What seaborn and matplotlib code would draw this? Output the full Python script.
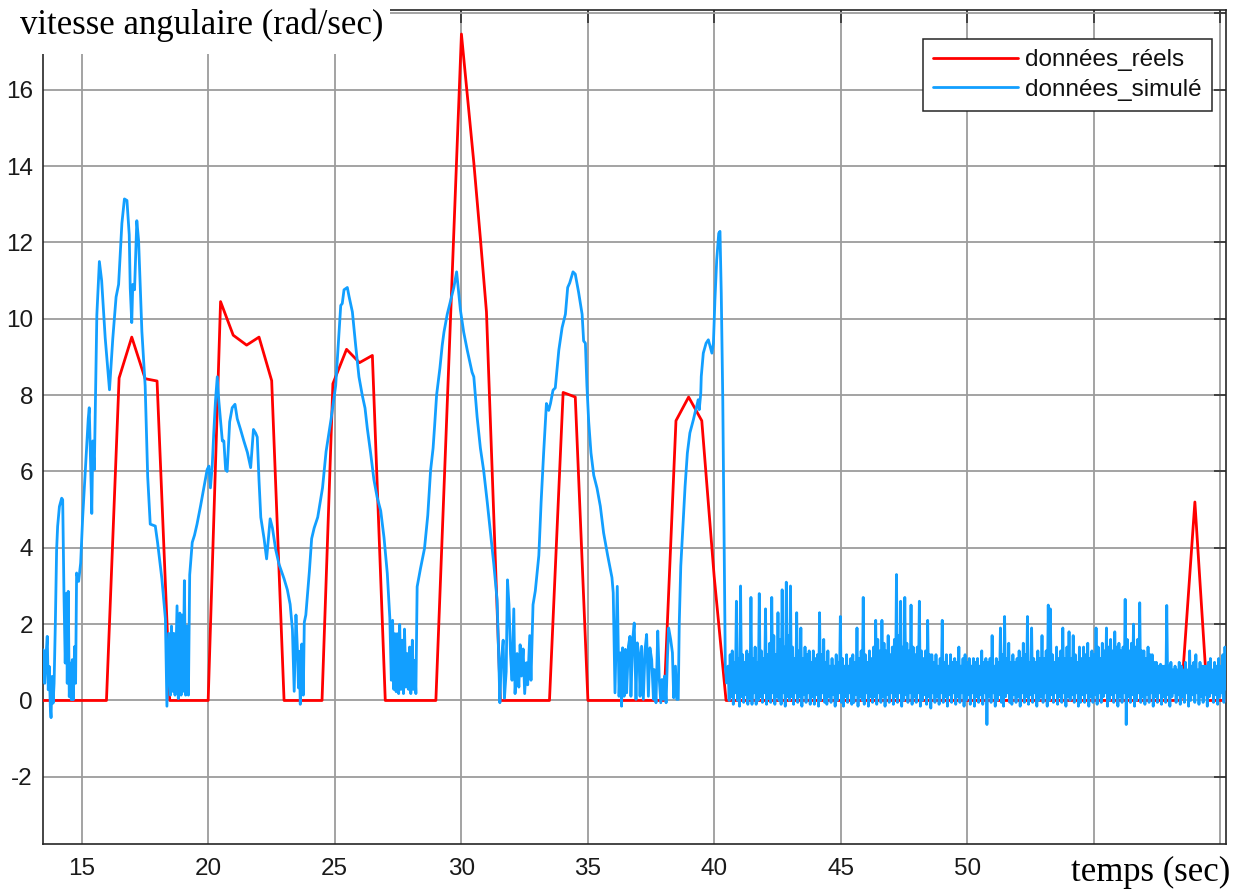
import numpy as np
import matplotlib
matplotlib.use("Agg")
import matplotlib.pyplot as plt
import seaborn as sns
from matplotlib.patches import Rectangle

# ---------------- data ----------------
reel_t = [13.46, 15.98, 16.48, 16.98, 17.51, 17.98, 18.41, 18.48, 20.0, 20.49, 20.99, 21.52,
          22.01, 22.51, 23.0, 24.50, 24.93, 25.47, 25.98, 26.49, 27.0, 29.0, 30.01, 30.5,
          30.76, 31.0, 31.55, 33.49, 34.03, 34.51, 35.01, 38.02, 38.49, 38.99, 39.51, 40.0,
          40.47, 58.45, 59.0, 59.5, 60.23]
reel_v = [0, 0, 8.45, 9.52, 8.43, 8.37, 1.43, 0, 0, 10.45, 9.57, 9.31,
          9.52, 8.38, 0, 0, 8.3, 9.2, 8.85, 9.04, 0, 0, 17.46, 14.09,
          12.1, 10.18, 0, 0, 8.07, 7.95, 0, 0, 7.33, 7.95, 7.33, 3.25,
          0, 0, 5.2, 0, 0]

sim_t = [13.46, 13.48, 13.54, 13.59, 13.64, 13.68, 13.72, 13.76, 13.79, 13.83, 13.87, 13.91,
         13.96, 14.01, 14.05, 14.12, 14.21, 14.25, 14.30, 14.35, 14.40, 14.43, 14.47, 14.51,
         14.55, 14.59, 14.63, 14.67, 14.72, 14.76, 14.80, 14.88, 14.96, 15.04, 15.13, 15.26,
         15.30, 15.36, 15.40, 15.44, 15.50, 15.60, 15.70, 15.79, 15.93, 16.10, 16.23, 16.36,
         16.46, 16.59, 16.69, 16.79, 16.88, 16.92, 16.98, 17.02, 17.09, 17.18, 17.25, 17.38,
         17.51, 17.61, 17.71, 17.91, 18.00, 18.17, 18.31, 18.37, 18.44, 18.51, 18.55, 18.60,
         18.64, 18.69, 18.77, 18.82, 18.88, 18.93, 18.97, 19.01, 19.06, 19.11, 19.17, 19.22,
         19.27, 19.37, 19.46, 19.56, 19.70, 19.83, 19.96, 20.03, 20.09, 20.16, 20.22, 20.29,
         20.36, 20.42, 20.56, 20.62, 20.69, 20.75, 20.85, 20.95, 21.06, 21.15, 21.28, 21.41,
         21.55, 21.68, 21.79, 21.88, 21.94, 22.01, 22.08, 22.21, 22.31, 22.45, 22.54, 22.67,
         22.80, 23.00, 23.13, 23.24, 23.33, 23.40, 23.47, 23.53, 23.57, 23.60, 23.64, 23.68,
         23.70, 23.76, 23.80, 23.86, 24.00, 24.09, 24.19, 24.33, 24.52, 24.66, 24.86, 25.04,
         25.24, 25.30, 25.37, 25.50, 25.57, 25.70, 25.83, 25.96, 26.09, 26.20, 26.29, 26.42,
         26.55, 26.68, 26.82, 26.95, 27.08, 27.18, 27.24, 27.29, 27.34, 27.38, 27.43, 27.47,
         27.53, 27.57, 27.62, 27.67, 27.72, 27.76, 27.82, 27.87, 27.92, 27.96, 28.01, 28.07,
         28.11, 28.16, 28.21, 28.26, 28.39, 28.55, 28.68, 28.79, 28.89, 28.95, 29.03, 29.16,
         29.25, 29.32, 29.45, 29.58, 29.71, 29.82, 29.88, 29.97, 30.10, 30.24, 30.43, 30.50,
         30.63, 30.76, 30.89, 31.03, 31.16, 31.29, 31.42, 31.49, 31.53, 31.58, 31.66, 31.71,
         31.78, 31.83, 31.89, 31.95, 32.01, 32.08, 32.13, 32.21, 32.28, 32.33, 32.38, 32.45,
         32.51, 32.58, 32.63, 32.71, 32.76, 32.84, 32.93, 33.07, 33.16, 33.26, 33.37, 33.46,
         33.53, 33.63, 33.72, 33.86, 33.99, 34.12, 34.21, 34.29, 34.42, 34.51, 34.64, 34.78,
         34.84, 34.91, 34.97, 35.04, 35.13, 35.24, 35.37, 35.50, 35.63, 35.79, 35.96, 36.01,
         36.08, 36.17, 36.24, 36.30, 36.34, 36.38, 36.44, 36.49, 36.54, 36.61, 36.67, 36.71,
         36.78, 36.84, 36.91, 36.96, 37.03, 37.07, 37.13, 37.20, 37.27, 37.33, 37.40, 37.46,
         37.53, 37.60, 37.63, 37.70, 37.77, 37.83, 37.89, 37.94, 37.99, 38.04, 38.10, 38.15,
         38.20, 38.28, 38.35, 38.40, 38.47, 38.52, 38.58, 38.62, 38.68, 38.75, 38.85, 38.94,
         39.04, 39.11, 39.18, 39.24, 39.31, 39.37, 39.41, 39.47, 39.49, 39.57, 39.68, 39.77,
         39.84, 39.91, 39.97, 40.03, 40.10, 40.18, 40.23, 40.28, 40.34, 40.39, 40.44, 40.49]
sim_v = [1.0, 1.33, 0.45, 1.15, 1.68, 0.28, 0.89, -0.16, -0.45, 0.63, -0.07, 0.45,
         2.03, 3.95, 4.56, 5.08, 5.3, 5.26, 2.81, 0.98, 2.81, 0.45, 2.86, 0.1,
         0.98, 0.02, 1.07, 0.02, 1.41, 0.45, 3.34, 3.12, 3.6, 4.8, 5.86, 7.38,
         7.67, 5.95, 4.9, 6.8, 6.05, 10.1, 11.5, 11.0, 9.5, 8.14, 9.48, 10.57,
         10.9, 12.5, 13.14, 13.1, 12.2, 10.8, 9.9, 10.9, 10.76, 12.57, 12.05, 9.67,
         8.24, 5.86, 4.62, 4.57, 4.14, 3.19, 2.14, -0.15, 1.76, 0.14, 1.95, 0.24,
         1.76, 0.14, 2.48, 0.05, 2.29, 0.14, 2.24, 0.24, 3.14, 0.14, 1.95, 0.14,
         3.29, 4.14, 4.33, 4.62, 5.1, 5.57, 6.05, 6.14, 5.57, 6.14, 7.0, 7.86,
         8.48, 7.86, 6.8, 6.8, 6.05, 6.0, 7.3, 7.67, 7.76, 7.38, 7.1, 6.8,
         6.5, 6.1, 7.1, 7.0, 6.9, 5.76, 4.8, 4.24, 3.71, 4.76, 4.52, 3.95,
         3.57, 3.19, 2.9, 2.52, 1.86, 0.24, 2.24, 1.29, 0.33, 1.29, -0.1, 0.71,
         1.48, 0.14, 2.05, 2.24, 3.38, 4.24, 4.52, 4.8, 5.57, 6.52, 7.38, 8.25,
         10.35, 10.4, 10.76, 10.82, 10.58, 10.18, 9.3, 8.48, 8.0, 7.66, 7.13, 6.49,
         5.79, 5.32, 4.97, 4.27, 3.33, 2.16, 0.53, 2.1, 0.29, 1.75, 0.23, 1.75,
         0.18, 1.99, 0.29, 1.58, 0.18, 1.87, 0.35, 1.23, 0.29, 1.4, 0.18, 1.58,
         0.29, 1.05, 0.18, 2.98, 3.45, 3.98, 4.85, 6.02, 6.61, 7.19, 8.01, 8.71,
         9.3, 9.65, 10.12, 10.47, 10.82, 11.23, 10.82, 10.23, 9.65, 9.18, 8.6, 8.48,
         7.43, 6.61, 6.02, 5.2, 4.39, 3.57, 2.63, 0.99, -0.06, 0.99, 1.58, 0.06,
         0.76, 3.16, 2.51, 1.23, 0.53, 2.4, 0.18, 1.23, 0.35, 1.46, 0.64, 1.35,
         0.18, 0.99, 0.41, 1.7, 0.53, 2.51, 2.87, 3.8, 5.2, 6.49, 7.78, 7.6,
         7.78, 8.13, 8.19, 9.18, 9.77, 10.12, 10.82, 10.94, 11.23, 11.17, 10.7, 10.12,
         9.42, 9.36, 8.25, 7.31, 6.49, 5.9, 5.56, 5.09, 4.39, 3.8, 3.22, 2.82,
         0.2, 2.99, 0.11, 1.25, -0.15, 1.38, 0.11, 1.34, 0.2, 1.42, 1.68, 0.11,
         1.6, 2.03, 0.03, 1.51, 1.16, 0.11, 1.42, 0.03, 1.34, 1.73, 0.11, 1.38,
         1.07, 0.03, 0.81, -0.06, 1.82, 0.55, -0.06, 0.55, 0.03, 0.64, -0.06, 1.07,
         1.9, 1.6, 1.25, 0.07, 0.9, 0.03, 0.03, 2.03, 3.52, 4.39, 5.61, 6.48,
         7.01, 7.18, 7.36, 7.53, 7.71, 7.88, 7.62, 8.05, 8.49, 9.1, 9.36, 9.45,
         9.28, 9.1, 9.36, 10.5, 11.54, 12.24, 12.29, 10.67, 7.88, 4.39, 0.9, 0.46]

# noise part of the simulated signal (evenly sampled from 40.55 s to 60.23 s)
bruit_debut, bruit_fin = 40.55, 60.23
bruit_v = [
    0.9, 0.0, 1.2, 0.1, 1.3, -0.1, 1.0, 0.2, 2.6, 0.0, 1.1, -0.15, 3.0, 0.1, 1.2, -0.05, 1.0, 0.15, 1.3, -0.1,
    1.2, 0.05, 2.7, -0.1, 1.1, 0.2, 1.4, -0.1, 1.0, 0.0, 2.8, 0.1, 1.3, -0.05, 1.1, 0.2, 2.4, -0.1, 1.2, 0.05,
    1.5, -0.05, 2.7, 0.2, 1.7, -0.1, 1.2, 0.1, 2.3, 0.0, 1.6, -0.1, 2.9, 0.2, 1.4, -0.15, 3.1, 0.1, 1.7, 0.0,
    3.0, 0.1, 1.4, -0.1, 1.1, 0.2, 2.3, -0.05, 1.3, 0.1, 1.9, -0.15, 1.1, 0.15, 1.4, -0.05, 1.2, 0.2, 1.3, -0.1,
    1.0, 0.1, 1.3, -0.1, 1.1, 0.15, 1.2, -0.15, 2.3, 0.0, 1.2, 0.2, 1.6, -0.05, 1.0, -0.1, 1.3, 0.1, 0.9, -0.05,
    1.1, 0.15, 0.9, -0.15, 1.2, 0.0, 1.0, 0.2, 2.2, -0.05, 1.1, -0.15, 0.9, 0.1, 1.2, -0.05, 0.9, 0.2, 1.1, -0.1,
    1.2, -0.05, 1.0, 0.15, 1.9, -0.15, 1.1, 0.1, 1.3, 0.0, 2.7, -0.1, 1.2, 0.2, 1.0, -0.15, 1.3, 0.1, 1.1, -0.05,
    1.4, 0.1, 2.1, -0.1, 1.6, 0.2, 1.3, -0.05, 2.1, 0.1, 1.5, -0.15, 1.3, 0.15, 1.7, -0.05, 1.2, 0.2, 1.4, -0.1,
    1.6, 0.1, 3.3, -0.05, 1.7, 0.2, 2.6, -0.15, 1.4, 0.0, 2.7, 0.15, 1.5, -0.05, 1.3, 0.2, 2.5, -0.1, 1.4, 0.1,
    1.2, -0.05, 1.4, 0.2, 2.6, -0.15, 1.3, 0.0, 1.1, 0.15, 1.3, -0.1, 2.1, 0.1, 1.2, -0.2, 1.2, 0.2, 1.0, -0.05,
    1.2, 0.1, 0.9, -0.1, 1.1, 0.2, 2.1, -0.05, 1.0, 0.1, 1.2, -0.15, 0.9, 0.15, 1.2, -0.05, 1.0, 0.2, 1.1, -0.1,
    1.0, 0.1, 1.4, -0.05, 0.9, 0.2, 1.1, -0.15, 1.2, 0.0, 1.0, 0.15, 1.1, -0.1, 0.9, 0.2, 1.1, -0.15, 1.0, 0.1,
    1.1, -0.05, 0.9, 0.15, 1.3, -0.1, 1.0, 0.2, 1.1, -0.63, 1.0, 0.1, 1.1, -0.05, 1.7, 0.2, 0.9, -0.15, 1.1, 0.0,
    1.0, 0.15, 1.9, -0.05, 1.2, -0.15, 2.2, 0.1, 1.1, 0.2, 1.5, -0.05, 1.0, -0.1, 1.2, 0.15, 1.0, -0.05, 1.1, 0.1,
    1.3, -0.15, 1.1, 0.2, 1.5, -0.05, 1.2, 0.1, 2.2, -0.1, 1.0, 0.15, 1.9, -0.05, 1.1, 0.2, 1.0, -0.15, 1.3, 0.0,
    1.1, 0.1, 1.7, -0.05, 1.1, 0.2, 1.3, -0.15, 2.5, 0.0, 2.4, 0.15, 1.2, -0.05, 1.0, 0.2, 1.4, -0.1, 1.1, 0.1,
    1.3, -0.05, 1.9, 0.2, 1.1, -0.15, 1.4, 0.1, 1.8, 0.0, 1.1, 0.15, 1.7, -0.05, 1.2, 0.2, 1.0, -0.15, 1.4, -0.05,
    1.1, 0.15, 1.4, -0.05, 1.2, 0.2, 1.5, -0.15, 1.1, 0.1, 1.3, -0.05, 1.2, 0.15, 1.9, -0.1, 1.4, 0.2, 1.1, -0.05,
    1.5, 0.1, 1.3, 0.2, 1.9, -0.15, 1.4, 0.0, 1.6, 0.15, 1.3, -0.05, 1.8, 0.2, 1.4, -0.15, 1.5, 0.1, 1.3, -0.05,
    1.4, 0.2, 2.65, -0.63, 1.6, 0.1, 1.3, -0.05, 1.5, 0.15, 2.0, -0.15, 1.4, 0.0, 1.6, 0.2, 2.56, -0.05, 1.3, 0.1,
    1.3, -0.1, 1.1, 0.15, 1.4, -0.05, 1.2, 0.2, 1.2, -0.15, 1.0, 0.1, 1.0, -0.05, 0.9, 0.2, 0.95, -0.1, 0.9, 0.1,
    0.9, -0.05, 2.49, 0.15, 0.9, -0.15, 1.0, 0.1, 0.8, 0.2, 0.9, -0.05, 0.8, 0.15, 1.0, -0.1, 0.9, 0.1, 0.8, -0.05,
    1.0, 0.2, 0.8, -0.15, 1.3, 0.0, 0.9, 0.15, 1.0, -0.05, 1.2, 0.2, 0.8, -0.1, 1.0, 0.1, 0.9, -0.05, 0.9, 0.15,
    0.9, -0.15, 1.0, 0.1, 1.1, 0.2, 0.8, -0.05, 1.0, 0.15, 0.9, -0.1, 1.1, 0.1, 0.9, 0.2, 1.2, -0.05, 1.4, 0.3,
]

x_ticks = [15, 20, 25, 30, 35, 40, 45, 50, 55, 60]
x_labels = ["15", "20", "25", "30", "35", "40", "45", "50", "", ""]
y_ticks = [-2, 0, 2, 4, 6, 8, 10, 12, 14, 16, 18]
y_labels = ["-2", "0", "2", "4", "6", "8", "10", "12", "14", "16", ""]

label_reel = "données_réels"
label_sim = "données_simulé"
titre_y = "vitesse angulaire (rad/sec)"
titre_x = "temps (sec)"

# ---------------- drawing ----------------
sns.set_style("white")
plt.rcParams["font.family"] = ["Liberation Sans", "DejaVu Sans"]

W, H = 1240, 890
fig = plt.figure(figsize=(W / 100, H / 100), dpi=100)
ax = fig.add_axes([42.7 / W, 1 - 844 / H, (1226 - 42.7) / W, (844 - 10) / H])

t_all = np.concatenate([np.asarray(sim_t), np.linspace(bruit_debut, bruit_fin, len(bruit_v))])
v_all = np.concatenate([np.asarray(sim_v), np.asarray(bruit_v)])

RED = "#ff0000"
BLUE = "#129fff"
sns.lineplot(x=reel_t, y=reel_v, ax=ax, color=RED, lw=2.0, estimator=None, sort=False,
             label=label_reel, zorder=3)
sns.lineplot(x=t_all, y=v_all, ax=ax, color=BLUE, lw=2.0, estimator=None, sort=False,
             label=label_sim, zorder=4)

ax.set_xlim(13.46, 60.23)
ax.set_ylim(-3.76, 18.09)
ax.set_xticks(x_ticks)
ax.set_xticklabels(x_labels)
ax.set_yticks(y_ticks)
ax.set_yticklabels(y_labels)
ax.set_xlabel("")
ax.set_ylabel("")

ax.set_axisbelow(True)
ax.grid(True, color="#9c9c9c", lw=1.3)
for s in ax.spines.values():
    s.set_visible(True)
    s.set_color("#262626")
    s.set_linewidth(1.2)
ax.tick_params(direction="in", length=9, width=1.1, color="#262626",
               top=True, right=True, labelsize=17.5, labelcolor="#1a1a1a")
ax.tick_params(axis="y", pad=7)
ax.tick_params(axis="x", pad=10)

leg = ax.legend(loc="upper right", bbox_to_anchor=(1212 / W, 1 - 39 / H),
                bbox_transform=fig.transFigure, fontsize=17.5, frameon=True,
                fancybox=False, edgecolor="#262626", framealpha=1, borderaxespad=0,
                handlelength=3.5, handletextpad=0.3, borderpad=0.42, labelspacing=0.3)
leg.get_frame().set_linewidth(1.1)
for txt in leg.get_texts():
    txt.set_color("#111111")
leg.set_zorder(10)

# white patch behind the y title (covers the corner of the box, as in the original)
fig.patches.append(Rectangle((0, 1 - 54 / H), 390 / W, 54 / H, transform=fig.transFigure,
                             facecolor="white", edgecolor="none", zorder=5))
fig.text(20 / W, 1 - 34 / H, titre_y, fontsize=25, family=["Liberation Serif", "DejaVu Serif"],
         ha="left", va="baseline", zorder=6, color="black")
fig.text(1230 / W, 1 - 881 / H, titre_x, fontsize=25, family=["Liberation Serif", "DejaVu Serif"],
         ha="right", va="baseline", zorder=6, color="black")

fig.savefig("out.png", dpi=100, facecolor="white")
